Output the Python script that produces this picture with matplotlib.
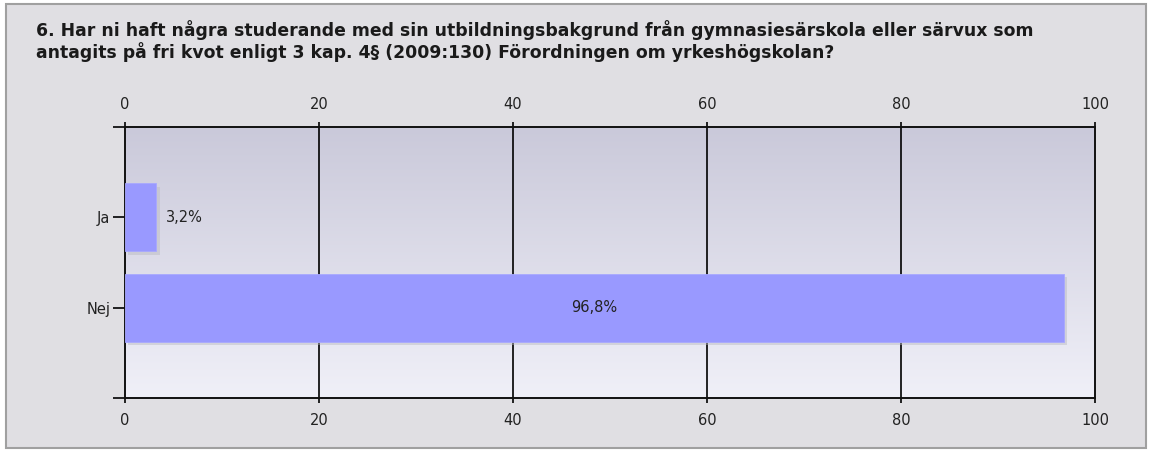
import matplotlib
matplotlib.use("Agg")
import matplotlib.pyplot as plt
import numpy as np
from matplotlib.patches import Rectangle
from matplotlib.colors import LinearSegmentedColormap
import matplotlib.patheffects as pe

categories = ["Ja", "Nej"]
values = [3.2, 96.8]
labels = ["3,2%", "96,8%"]
xticks = [0, 20, 40, 60, 80, 100]
title = ("6. Har ni haft några studerande med sin utbildningsbakgrund från gymnasiesärskola eller särvux som\n"
         "antagits på fri kvot enligt 3 kap. 4§ (2009:130) Förordningen om yrkeshögskolan?")

W, H = 1151, 454
fig = plt.figure(figsize=(W / 100, H / 100), dpi=100)
fig.patch.set_facecolor("white")
# outer panel
fig.add_artist(Rectangle((6 / W, 1 - 448 / H), (1146 - 6) / W, (448 - 4) / H,
                         transform=fig.transFigure, facecolor="#e0dfe3",
                         edgecolor="#a0a0a0", linewidth=1.5, zorder=0))

fig.text(36 / W, 1 - 41 / H, title, fontsize=12.4, fontweight="bold",
         color="#1a1a1a", ha="left", va="center", linespacing=1.12)

ax = fig.add_axes([125 / W, 1 - 398 / H, (1095 - 125) / W, (398 - 127) / H])
ax.set_xlim(0, 100)
ax.set_ylim(2, -1)

# gradient background
grad = np.linspace(0, 1, 256).reshape(-1, 1)
cmap = LinearSegmentedColormap.from_list("g", ["#cac9da", "#f0f0f8"])
ax.imshow(grad, aspect="auto", cmap=cmap, extent=[0, 100, 2, -1], zorder=0)

for x in xticks[1:-1]:
    ax.axvline(x, color="black", linewidth=1.2, zorder=1)

y = np.arange(len(categories))
bars = ax.barh(y, values, height=0.75, color="#9999ff", edgecolor="#a8a8ff",
               linewidth=0.6, zorder=3)
for b in bars:
    b.set_path_effects([pe.SimplePatchShadow(offset=(2.5, -2.5), shadow_rgbFace="#b8b8c0", alpha=0.45),
                        pe.Normal()])

for yi, v, lab in zip(y, values, labels):
    if v > 20:
        ax.text(v / 2, yi, lab, ha="center", va="center", fontsize=10.5, color="#222222", zorder=4)
    else:
        ax.text(v + 1, yi, lab, ha="left", va="center", fontsize=10.5, color="#222222", zorder=4)

ax.set_xticks(xticks)
ax.set_xticklabels([str(t) for t in xticks])
ax.tick_params(axis="x", which="both", top=True, labeltop=True, bottom=True, labelbottom=True,
               direction="out", length=3.5, width=1.2, labelsize=10.5, labelcolor="#222222", pad=7)
ax.set_yticks([-1, 0, 1, 2])
ax.set_yticklabels(["", "Ja", "Nej", ""])
ax.tick_params(axis="y", direction="out", length=8.5, width=1.2, labelsize=10.5,
               labelcolor="#222222", pad=2)
for s in ax.spines.values():
    s.set_linewidth(1.4)
    s.set_color("#111111")

fig.savefig("out.png", dpi=100, facecolor=fig.get_facecolor())
